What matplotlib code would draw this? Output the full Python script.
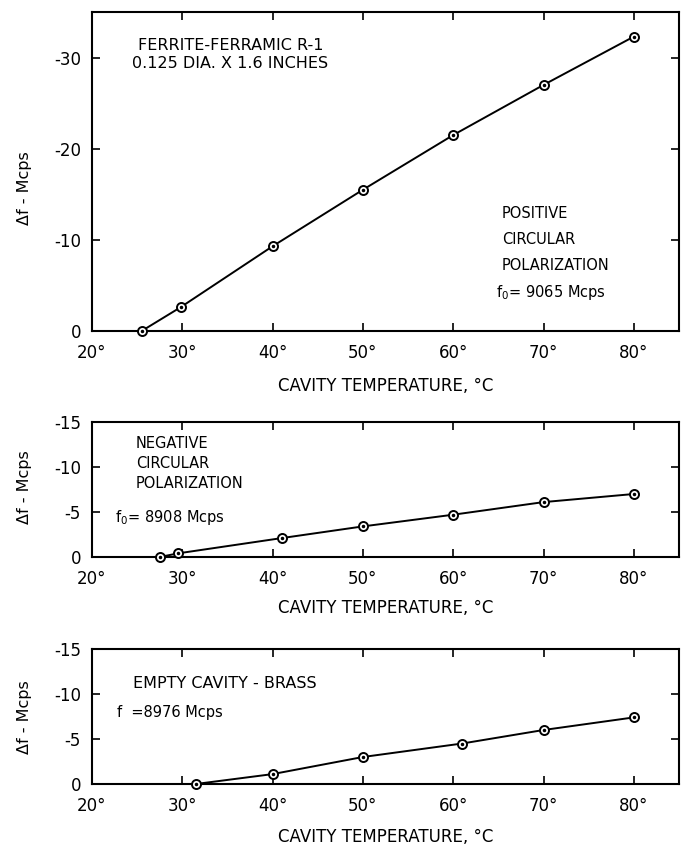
import matplotlib
matplotlib.use("Agg")
import matplotlib.pyplot as plt

# Data (temperature in deg C, frequency shift in Mcps)
pos_temp = [25.5, 29.8, 40, 50, 60, 70, 80]
pos_shift = [0, -2.6, -9.3, -15.5, -21.5, -27.0, -32.3]

neg_temp = [27.5, 29.5, 41, 50, 60, 70, 80]
neg_shift = [0, -0.4, -2.1, -3.4, -4.7, -6.1, -7.0]

empty_temp = [31.5, 40, 50, 61, 70, 80]
empty_shift = [0, -1.1, -3.0, -4.5, -6.0, -7.4]

x_ticks = [20, 30, 40, 50, 60, 70, 80]
x_tick_labels = [f"{t}°" for t in x_ticks]
y_ticks_top = [0, -10, -20, -30]
y_ticks_small = [0, -5, -10, -15]

plt.rcParams['font.family'] = ['DejaVu Sans']
plt.rcParams['axes.unicode_minus'] = False

W, H = 682, 846
fig = plt.figure(figsize=(W / 100, H / 100), dpi=100)


# pixel box -> figure fraction
def add_axes_px(left, top, right, bottom):
    return fig.add_axes([left / W, 1 - bottom / H, (right - left) / W, (bottom - top) / H])


def txt(x, y, s, size=10.5):
    fig.text(x / W, 1 - y / H, s, fontsize=size, va='center', ha='left')


def style_axes(ax, ylim, yticks, label_y_px, ax_top, ax_bottom, xpad):
    ax.set_xlim(20, 85)
    ax.set_ylim(0, ylim)
    ax.set_xticks(x_ticks)
    ax.set_xticklabels(x_tick_labels)
    ax.set_yticks(yticks)
    ax.set_yticklabels([str(v) if v == 0 else f"-{abs(v)}" for v in yticks])
    ax.tick_params(direction='in', length=6, width=1.2, top=True, right=True,
                   labelsize=12, pad=8)
    ax.tick_params(axis='x', pad=9)
    for sp in ax.spines.values():
        sp.set_linewidth(1.5)
    ax.set_xlabel("CAVITY TEMPERATURE, °C", fontsize=12, labelpad=xpad)
    ax.set_ylabel("Δf - Mcps", fontsize=11.5)
    ax.yaxis.set_label_coords(-0.103, (ax_bottom - label_y_px) / (ax_bottom - ax_top))


def plot_series(ax, xs, ys):
    ax.plot(xs, ys, color='black', lw=1.4, marker='o', ms=6.5, mfc='white',
            mec='black', mew=1.4, clip_on=False, zorder=3)
    ax.plot(xs, ys, ls='none', marker='.', ms=3, color='black', clip_on=False, zorder=4)


# Top panel
ax1 = add_axes_px(92, 12, 679, 331)
plot_series(ax1, pos_temp, pos_shift)
style_axes(ax1, -35, y_ticks_top, 188, 12, 331, 11)
txt(138, 45, "FERRITE-FERRAMIC R-1", 11.5)
txt(132, 64, "0.125 DIA. X 1.6 INCHES", 11.5)
txt(502, 213, "POSITIVE")
txt(502, 239, "CIRCULAR")
txt(502, 266, "POLARIZATION")
txt(496, 293, "f$_0$= 9065 Mcps")

# Middle panel
ax2 = add_axes_px(92, 422, 679, 557)
plot_series(ax2, neg_temp, neg_shift)
style_axes(ax2, -15, y_ticks_small, 487, 422, 557, 8)
txt(136, 443, "NEGATIVE")
txt(136, 463, "CIRCULAR")
txt(136, 483, "POLARIZATION")
txt(115, 517, "f$_0$= 8908 Mcps")

# Bottom panel
ax3 = add_axes_px(92, 649, 679, 784)
plot_series(ax3, empty_temp, empty_shift)
style_axes(ax3, -15, y_ticks_small, 717, 649, 784, 10)
txt(133, 683, "EMPTY CAVITY - BRASS", 11.5)
txt(117, 712, "f  =8976 Mcps")

fig.savefig("out.png", dpi=100)
